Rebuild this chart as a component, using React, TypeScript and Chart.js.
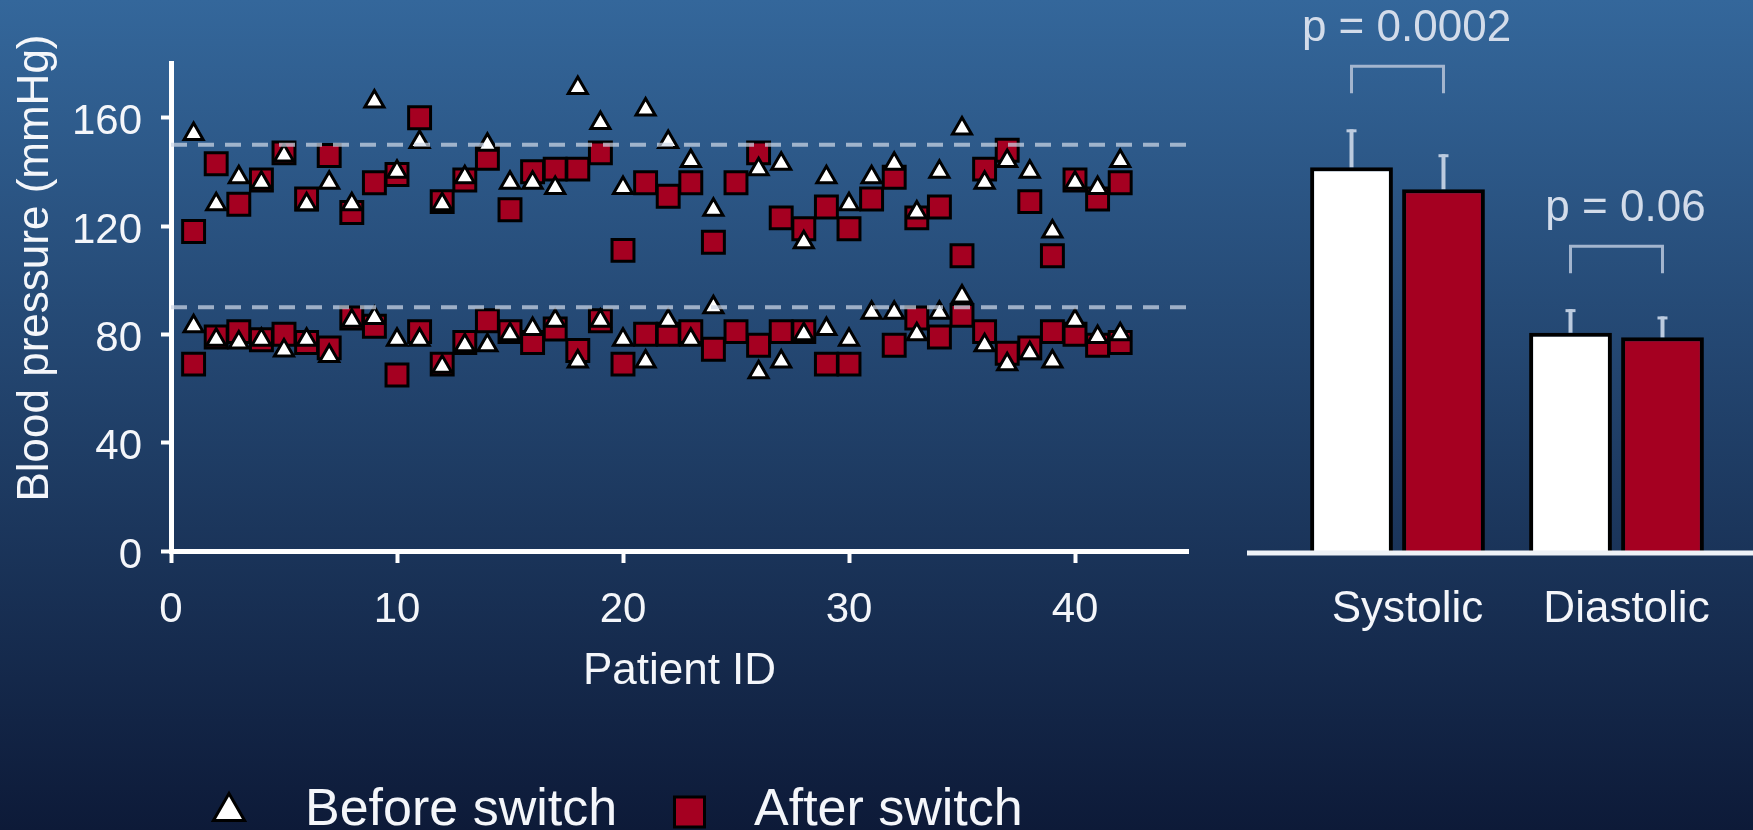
import React, { useEffect, useRef } from "react";
import { Chart, registerables } from "chart.js";

Chart.register(...registerables);

const FONT = '"Liberation Sans", Arial, Helvetica, sans-serif';

// Patient IDs (x axis of the scatter panel)
const patientIds = [
  1, 2, 3, 4, 5, 6, 7, 8, 9, 10, 11, 12, 13, 14, 15, 16, 17, 18, 19, 20, 21,
  22, 23, 24, 25, 26, 27, 28, 29, 30, 31, 32, 33, 34, 35, 36, 37, 38, 39, 40, 41, 42,
];

// Systolic / diastolic blood pressure (mmHg) before the switch
const beforeSystolic = [
  154, 128, 138, 136, 146, 128, 136, 128, 166, 140, 151, 128, 138, 150, 136, 136, 134, 171, 158, 134, 163,
  151, 144, 126, null, 141, 143, 114, 138, 128, 138, 143, 125, 140, 156, 136, 144, 140, 118, 136, 134, 144,
];
const beforeDiastolic = [
  83, 78, 77, 78, 74, 78, 72, 85, 86, 78, 78, 68, 76, 76, 80, 82, 85, 70, 85, 78, 70,
  85, 78, 90, null, 66, 70, 80, 82, 78, 88, 88, 80, 88, 94, 76, 69, 73, 70, 85, 79, 80,
];

// Systolic / diastolic blood pressure (mmHg) after the switch
const afterSystolic = [
  118, 143, 128, 137, 147, 130, 146, 125, 136, 139, 160, 129, 137, 145, 126, 140, 141, 141, 147, 111, 136,
  131, 136, 114, 136, 147, 123, 119, 127, 119, 130, 138, 123, 127, 109, 141, 148, 129, 109, 137, 130, 136,
];
const afterDiastolic = [
  69, 79, 81, 78, 80, 77, 75, 86, 83, 65, 81, 69, 77, 85, 81, 77, 82, 74, 85, 69, 80,
  80, 81, 74.5, 81, 76, 81, 81, 69, 69, null, 76, 86, 79, 87, 81, 73, 75, 81, 80, 76, 77,
];

// Hypertension thresholds drawn as dashed reference lines
const thresholds = [150, 90];

// Axis ticks
const xTicks = [0, 10, 20, 30, 40];
const yTicks = [0, 40, 80, 120, 160];

// Bar panel: group means and standard deviations
const barCategories = ["Systolic", "Diastolic"];
const meanBefore = [141.7, 80.6];
const sdBefore = [14.0, 8.7];
const meanAfter = [133.6, 78.9];
const sdAfter = [12.9, 7.7];
const pValues = ["p = 0.0002", "p = 0.06"];

const RED = "#A50021";
const TEXT = "#f4f6fa";

type Pt = { x: number; y: number };
const toPoints = (vals: (number | null)[]): Pt[] =>
  patientIds
    .map((id, i) => ({ x: id, y: vals[i] as number }))
    .filter((p) => p.y !== null && p.y !== undefined);

// Y-axis title and bottom legend of the scatter panel
const scatterDecor = {
  id: "scatterDecor",
  afterDraw(chart: any) {
    const ctx = chart.ctx as CanvasRenderingContext2D;
    ctx.save();
    ctx.fillStyle = TEXT;
    ctx.font = `44px ${FONT}`;
    ctx.translate(48, 268);
    ctx.rotate(-Math.PI / 2);
    ctx.textAlign = "center";
    ctx.textBaseline = "alphabetic";
    ctx.fillText("Blood pressure (mmHg)", 0, 0);
    ctx.restore();

    const tri = chart.data.datasets[2];
    const sq = chart.data.datasets[4];
    ctx.save();
    // triangle marker
    const tx = 229, ty = 811.5, r = 18;
    ctx.beginPath();
    ctx.moveTo(tx, ty - r);
    ctx.lineTo(tx + (Math.sqrt(3) / 2) * r, ty + r / 2);
    ctx.lineTo(tx - (Math.sqrt(3) / 2) * r, ty + r / 2);
    ctx.closePath();
    ctx.fillStyle = tri.backgroundColor;
    ctx.fill();
    ctx.lineWidth = 3;
    ctx.strokeStyle = tri.borderColor;
    ctx.stroke();
    // square marker
    const sx = 689.5, sy = 812, half = 15;
    ctx.beginPath();
    ctx.rect(sx - half, sy - half, half * 2, half * 2);
    ctx.fillStyle = sq.backgroundColor;
    ctx.fill();
    ctx.lineWidth = 3;
    ctx.strokeStyle = sq.borderColor;
    ctx.stroke();
    // labels
    ctx.fillStyle = TEXT;
    ctx.font = `52px ${FONT}`;
    ctx.textAlign = "left";
    ctx.textBaseline = "alphabetic";
    ctx.fillText(tri.label, 305, 825);
    ctx.fillText(sq.label, 754, 825);
    ctx.restore();
  },
};

// Error bars, significance brackets and baseline of the bar panel
const barDecor = {
  id: "barDecor",
  afterDatasetsDraw(chart: any) {
    const ctx = chart.ctx as CanvasRenderingContext2D;
    const yScale = chart.scales.y;
    const metaB = chart.getDatasetMeta(0);
    const metaA = chart.getDatasetMeta(1);
    const y0 = yScale.getPixelForValue(0);

    ctx.save();
    // baseline
    ctx.strokeStyle = "#eef2f7";
    ctx.lineWidth = 5;
    ctx.beginPath();
    ctx.moveTo(chart.chartArea.left - 41, y0 + 2);
    ctx.lineTo(chart.width, y0 + 2);
    ctx.stroke();

    // error bars
    const errTops: number[][] = [[], []];
    [
      [metaB, meanBefore, sdBefore],
      [metaA, meanAfter, sdAfter],
    ].forEach(([meta, means, sds]: any, d) => {
      meta.data.forEach((bar: any, i: number) => {
        const top = yScale.getPixelForValue(means[i] + sds[i]);
        errTops[d][i] = top;
        ctx.strokeStyle = "#bccbdf";
        ctx.lineWidth = 4;
        ctx.beginPath();
        ctx.moveTo(bar.x, bar.y);
        ctx.lineTo(bar.x, top);
        ctx.stroke();
        ctx.lineWidth = 3;
        ctx.beginPath();
        ctx.moveTo(bar.x - 5, top + 1.5);
        ctx.lineTo(bar.x + 5, top + 1.5);
        ctx.stroke();
      });
    });

    // brackets with p-values
    barCategories.forEach((_, i) => {
      const xl = metaB.data[i].x;
      const xr = metaA.data[i].x;
      const top = Math.min(errTops[0][i], errTops[1][i]) - 63;
      ctx.strokeStyle = "#a3b5ce";
      ctx.lineWidth = 3;
      ctx.beginPath();
      ctx.moveTo(xl, top + 27);
      ctx.lineTo(xl, top);
      ctx.lineTo(xr, top);
      ctx.lineTo(xr, top + 27);
      ctx.stroke();
      ctx.fillStyle = "#d3dcea";
      ctx.font = `44px ${FONT}`;
      ctx.textAlign = "center";
      ctx.textBaseline = "middle";
      ctx.fillText(pValues[i], (xl + xr) / 2 + 9, top - 37);
    });
    ctx.restore();
  },
};

export default function App() {
  const leftRef = useRef<HTMLCanvasElement>(null);
  const rightRef = useRef<HTMLCanvasElement>(null);

  useEffect(() => {
    Chart.defaults.font.family = FONT;

    const refLine = (v: number) => ({
      type: "scatter" as const,
      label: `threshold ${v}`,
      data: [
        { x: 0, y: v },
        { x: 45, y: v },
      ],
      showLine: true,
      borderColor: "rgba(205,215,230,0.72)",
      borderWidth: 4,
      borderDash: [16, 11],
      pointRadius: 0,
      order: 0,
    });

    const tri = (vals: (number | null)[]) => ({
      label: "Before switch",
      data: toPoints(vals),
      pointStyle: "triangle",
      pointRadius: 11,
      backgroundColor: "#ffffff",
      borderColor: "#000000",
      borderWidth: 3,
      order: 1,
    });
    const sq = (vals: (number | null)[]) => ({
      label: "After switch",
      data: toPoints(vals),
      pointStyle: "rect",
      pointRadius: 15.5,
      backgroundColor: RED,
      borderColor: "#000000",
      borderWidth: 3,
      order: 2,
    });

    const left = new Chart(leftRef.current!, {
      type: "scatter",
      data: {
        datasets: [
          refLine(thresholds[0]),
          refLine(thresholds[1]),
          tri(beforeSystolic),
          tri(beforeDiastolic),
          sq(afterSystolic),
          sq(afterDiastolic),
        ] as any,
      },
      options: {
        animation: false,
        responsive: false,
        events: [],
        layout: { padding: { left: 0, right: 32, top: 63.5, bottom: 131.6 } },
        plugins: { legend: { display: false }, tooltip: { enabled: false } },
        scales: {
          x: {
            type: "linear",
            min: 0,
            max: 45,
            afterFit: (s: any) => {
              s.height = 147.4;
            },
            afterBuildTicks: (s: any) => {
              s.ticks = xTicks.map((v) => ({ value: v }));
            },
            grid: {
              display: true,
              drawOnChartArea: false,
              drawTicks: true,
              tickLength: 12,
              tickWidth: 4,
              tickColor: "#ffffff",
            },
            border: { display: true, color: "#ffffff", width: 5 },
            ticks: {
              color: TEXT,
              font: { size: 42 },
              padding: 22,
              maxRotation: 0,
              autoSkip: false,
            },
            title: {
              display: true,
              text: "Patient ID",
              color: TEXT,
              font: { size: 44 },
              padding: { top: 0, bottom: 0 },
            },
          },
          y: {
            type: "linear",
            min: 0,
            max: 180,
            afterFit: (s: any) => {
              s.width = 171;
            },
            afterBuildTicks: (s: any) => {
              s.ticks = yTicks.map((v) => ({ value: v }));
            },
            grid: {
              display: true,
              drawOnChartArea: false,
              drawTicks: true,
              tickLength: 10,
              tickWidth: 4,
              tickColor: "#ffffff",
            },
            border: { display: true, color: "#ffffff", width: 5 },
            ticks: {
              color: TEXT,
              font: { size: 42 },
              padding: 19,
              labelOffset: 5,
              autoSkip: false,
            },
          },
        },
      } as any,
      plugins: [scatterDecor],
    });

    const right = new Chart(rightRef.current!, {
      type: "bar",
      data: {
        labels: barCategories,
        datasets: [
          {
            label: "Before switch",
            data: meanBefore,
            backgroundColor: "#ffffff",
            borderColor: "#000000",
            borderWidth: 4,
            categoryPercentage: 0.84,
            barPercentage: 0.9,
          },
          {
            label: "After switch",
            data: meanAfter,
            backgroundColor: RED,
            borderColor: "#000000",
            borderWidth: 4,
            categoryPercentage: 0.84,
            barPercentage: 0.9,
          },
        ],
      },
      options: {
        animation: false,
        responsive: false,
        events: [],
        layout: { padding: { left: 68, right: 27, top: 63.5, bottom: 139 } },
        plugins: { legend: { display: false }, tooltip: { enabled: false } },
        scales: {
          x: {
            afterFit: (s: any) => {
              s.height = 140;
            },
            grid: { display: false, drawTicks: false },
            border: { display: false },
            ticks: {
              color: TEXT,
              font: { size: 44 },
              padding: 32.6,
              labelOffset: 10,
              maxRotation: 0,
            },
          },
          y: { display: false, min: 0, max: 180 },
        },
      } as any,
      plugins: [barDecor],
    });

    return () => {
      left.destroy();
      right.destroy();
    };
  }, []);

  return (
    <div
      style={{
        position: "fixed",
        left: 0,
        top: 0,
        width: 1753,
        height: 830,
        overflow: "hidden",
        background: "linear-gradient(180deg, #34679b 0%, #0d1a38 100%)",
      }}
    >
      <canvas ref={leftRef} width={1220} height={830} style={{ position: "absolute", left: 0, top: 0 }} />
      <canvas ref={rightRef} width={533} height={830} style={{ position: "absolute", left: 1220, top: 0 }} />
    </div>
  );
}
